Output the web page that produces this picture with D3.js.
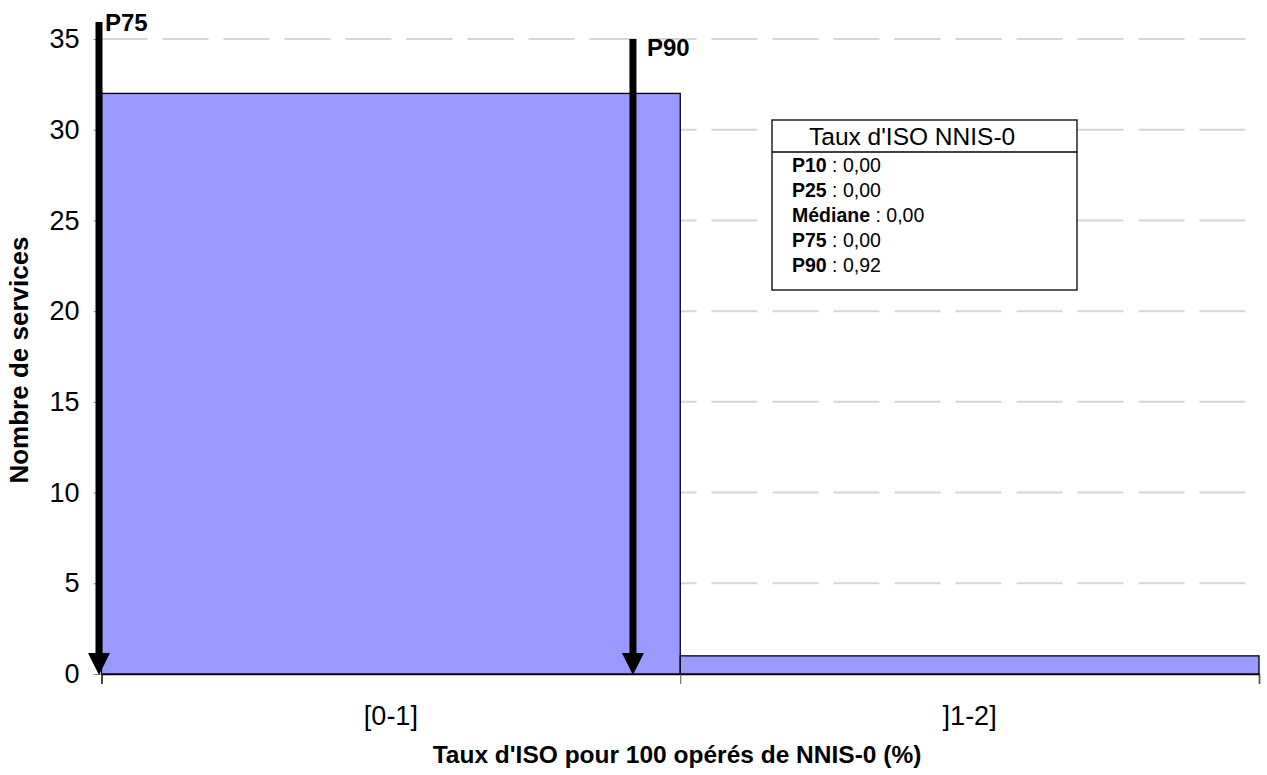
<!DOCTYPE html>
<html><head><meta charset="utf-8">
<script src="https://cdn.jsdelivr.net/npm/d3@7"></script>
<style>body{margin:0;background:#fff}svg{display:block;font-family:"Liberation Sans",Arial,sans-serif}</style>
</head><body>
<svg id="c" width="1267" height="775"></svg>
<script>
const categories = ["[0-1]", "]1-2]"];
const binStarts = [0, 1];
const binEnds = [1, 2];
const counts = [32, 1];
const yTicks = [0, 5, 10, 15, 20, 25, 30, 35];
const markerNames = ["P75", "P90"];
const markerValues = [0, 0.92];
const markerTops = [36, 35];
const statNames = ["P10", "P25", "Médiane", "P75", "P90"];
const statValues = ["0,00", "0,00", "0,00", "0,00", "0,92"];
const legendTitle = "Taux d'ISO NNIS-0";
const xTitle = "Taux d'ISO pour 100 opérés de NNIS-0 (%)";
const yTitle = "Nombre de services";

const FONT = "Liberation Sans, Arial, sans-serif";
const svg = d3.select("#c");
const L = 101.5, R = 1259, T = 39, B = 674;
const x = d3.scaleLinear().domain([0, 2]).range([L, R]);
const y = d3.scaleLinear().domain([0, 35]).range([B, T]);

// gridlines
svg.append("g").selectAll("line").data(yTicks.filter(d => d > 0)).join("line")
  .attr("x1", L).attr("x2", R).attr("y1", d => y(d)).attr("y2", d => y(d))
  .attr("stroke", "#d6d6d6").attr("stroke-width", 2).attr("stroke-dasharray", "46,15");

// y axis
const ya = svg.append("g").attr("transform", `translate(${L},0)`)
  .call(d3.axisLeft(y).tickValues(yTicks).tickSize(8).tickPadding(14));
ya.select(".domain").remove();
ya.selectAll(".tick line").attr("stroke", "#888");
ya.selectAll("text").attr("font-size", 27).attr("fill", "#000").attr("font-family", FONT);

// bars
svg.append("g").selectAll("rect").data(counts).join("rect")
  .attr("x", (d, i) => x(binStarts[i])).attr("width", (d, i) => x(binEnds[i]) - x(binStarts[i]))
  .attr("y", d => y(d)).attr("height", d => y(0) - y(d))
  .attr("fill", "#9999ff").attr("stroke", "#000").attr("stroke-width", 1.3);

// x axis
const xa = svg.append("g").attr("transform", `translate(0,${B})`)
  .call(d3.axisBottom(x).tickValues([0, 1, 2]).tickSize(10).tickFormat(""));
xa.select(".domain").attr("stroke", "#000").attr("stroke-width", 1.5);
xa.selectAll(".tick line").attr("stroke", "#555");

svg.append("g").selectAll("text").data(categories).join("text")
  .attr("x", (d, i) => x((binStarts[i] + binEnds[i]) / 2)).attr("y", 725)
  .attr("text-anchor", "middle").attr("font-size", 27).text(d => d);

// markers (arrows)
const mg = svg.append("g");
const labelPos = [[105, 31], [647, 56]];
markerValues.forEach((v, i) => {
  const cx = x(v) - (i === 0 ? 2.5 : 1);
  const top = i === 0 ? 22 : y(markerTops[i]);
  mg.append("line").attr("x1", cx).attr("x2", cx).attr("y1", top).attr("y2", B - 18)
    .attr("stroke", "#000").attr("stroke-width", 7);
  mg.append("path").attr("d", `M${cx - 11},${B - 21} L${cx + 11},${B - 21} L${cx},${B + 1} Z`).attr("fill", "#000");
  mg.append("text").attr("x", labelPos[i][0]).attr("y", labelPos[i][1])
    .attr("font-size", 24).attr("font-weight", "bold").text(markerNames[i]);
});

// legend box
const lg = svg.append("g").attr("transform", "translate(772,120)");
lg.append("rect").attr("width", 305).attr("height", 170).attr("fill", "#fff").attr("stroke", "#000").attr("stroke-width", 1.3);
lg.append("line").attr("x1", 0).attr("x2", 305).attr("y1", 32).attr("y2", 32).attr("stroke", "#000").attr("stroke-width", 1.3);
lg.append("text").attr("x", 37).attr("y", 25).attr("font-size", 24.5).text(legendTitle);
statNames.forEach((n, i) => {
  const t = lg.append("text").attr("x", 20).attr("y", 52 + i * 25).attr("font-size", 19.5);
  t.append("tspan").attr("font-weight", "bold").text(n);
  t.append("tspan").text(" : " + statValues[i]);
});

// titles
svg.append("text").attr("x", 677).attr("y", 763).attr("text-anchor", "middle")
  .attr("font-size", 24.5).attr("font-weight", "bold").text(xTitle);
svg.append("text").attr("transform", "translate(28,360) rotate(-90)").attr("text-anchor", "middle")
  .attr("font-size", 26).attr("font-weight", "bold").text(yTitle);
</script>
</body></html>
